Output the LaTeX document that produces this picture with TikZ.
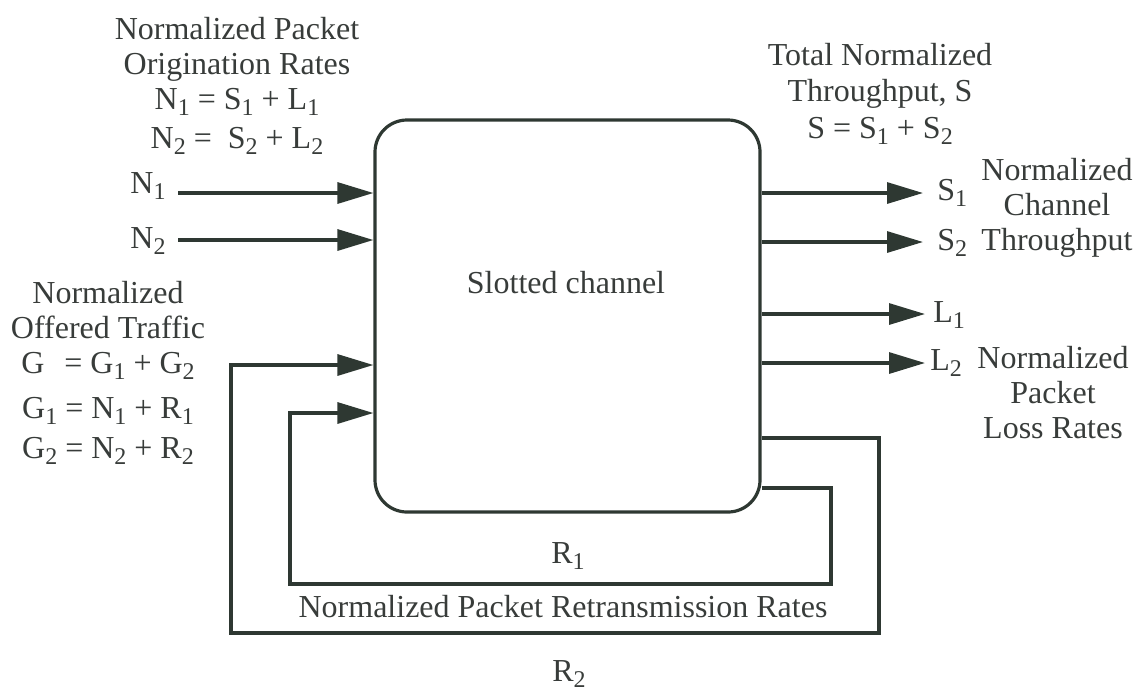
\documentclass[tikz,border=0pt]{standalone}
\usepackage{fontspec}
\setmainfont{Liberation Serif}
\usetikzlibrary{arrows.meta}
\definecolor{ink}{RGB}{46,56,50}
\definecolor{txt}{RGB}{56,60,58}
% lowered, smaller index digit
\newcommand\ssub[1]{\raisebox{-3pt}{\fontsize{12}{12}\selectfont #1}}
\begin{document}
\begin{tikzpicture}[x=0.5pt,y=-0.5pt,
  wire/.style={draw=ink, line width=1.6pt},
  arr/.style={wire, -{Triangle[length=18pt,width=10.5pt]}},
  lbl/.style={inner sep=0pt, text=txt, font=\fontsize{16}{17.5}\selectfont},
  blk/.style={lbl, align=center, anchor=north},
  chan/.style={wire, rounded corners=16pt, minimum width=192.5pt,
               minimum height=196pt, inner sep=0pt}]
\useasboundingbox (0,0) rectangle (1138,692);

% the channel block
\node[chan] (ch) at (567.5,316) {};
\node[lbl, anchor=base] (chname) at (566,293) {Slotted channel};

% text blocks
\node[blk] (orig) at (237,14.5) {\strut Normalized Packet\\ Origination Rates\\
  N\ssub1 = S\ssub1 + L\ssub1\\[2pt] N\ssub2 =~ S\ssub2 + L\ssub2};
\node[blk] (total) at (880,40.5) {\strut Total Normalized\\[0.75pt] Throughput, S\\[0.75pt]
  S = S\ssub1 + S\ssub2};
\node[blk] (offered) at (108,278.5) {\strut Normalized\\ Offered Traffic\\
  G\hphantom{\ssub1} = G\ssub1 + G\ssub2\\[5pt] G\ssub1 = N\ssub1 + R\ssub1\\[2.5pt]
  G\ssub2 = N\ssub2 + R\ssub2};
\node[blk] (thru) at (1057,155.5) {\strut Normalized\\ Channel\\ Throughput};
\node[blk] (loss) at (1053,343.5) {\strut Normalized\\ Packet\\ Loss Rates};

% input labels and arrows
\node[lbl, anchor=base east] (n1) at (166,193) {N\ssub1};
\node[lbl, anchor=base east] (n2) at (166,248) {N\ssub2};
\coordinate (in1) at (178,193);
\coordinate (in2) at (178,240);
\draw[arr] (in1) -- (in1 -| ch.west);
\draw[arr] (in2) -- (in2 -| ch.west);

% output arrows and labels
\coordinate (out1) at (923,193);
\coordinate (out2) at (923,242);
\coordinate (out3) at (925,314);
\coordinate (out4) at (925,363);
\draw[arr] (out1 -| ch.east) -- (out1);
\draw[arr] (out2 -| ch.east) -- (out2);
\draw[arr] (out3 -| ch.east) -- (out3);
\draw[arr] (out4 -| ch.east) -- (out4);
\node[lbl, anchor=base west] (s1) at (937,200) {S\ssub1};
\node[lbl, anchor=base west] (s2) at (937,250) {S\ssub2};
\node[lbl, anchor=base west] (l1) at (933,322) {L\ssub1};
\node[lbl, anchor=base west] (l2) at (930,370) {L\ssub2};

% retransmission loops
\coordinate (r1a) at (831,488);
\coordinate (r1b) at (831,584);
\coordinate (r1c) at (290,584);
\coordinate (r1d) at (290,413);
\draw[arr] (r1a -| ch.east) -- (r1a) -- (r1b) -- (r1c) -- (r1d) -- (r1d -| ch.west);
\coordinate (r2a) at (879,438);
\coordinate (r2b) at (879,633);
\coordinate (r2c) at (231,633);
\coordinate (r2d) at (231,365);
\draw[arr] (r2a -| ch.east) -- (r2a) -- (r2b) -- (r2c) -- (r2d) -- (r2d -| ch.west);

\node[lbl, anchor=base] (r1) at (568,563) {R\ssub1};
\node[lbl, anchor=base] (retx) at (563,617) {Normalized Packet Retransmission Rates};
\node[lbl, anchor=base] (r2) at (569,681) {R\ssub2};
\end{tikzpicture}
\end{document}
